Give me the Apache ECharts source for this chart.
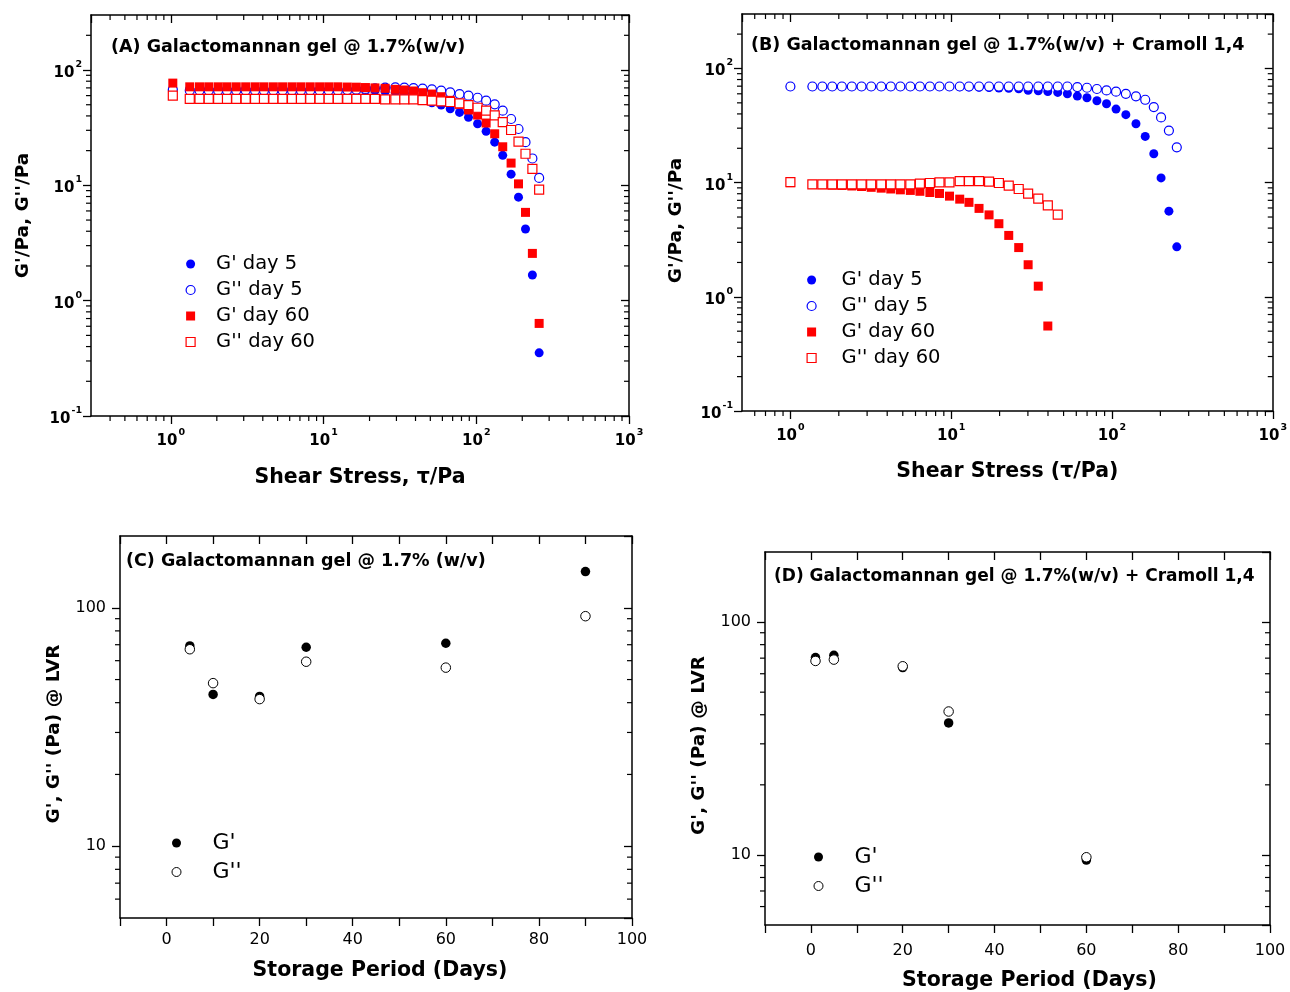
<!DOCTYPE html>
<html><head><meta charset="utf-8">
<script src="https://cdn.jsdelivr.net/npm/echarts@6/dist/echarts.min.js"></script>
<style>html,body{margin:0;padding:0;background:#fff}#c{width:1290px;height:992px}</style>
</head><body><div id="c"></div>
<script>
// ---------------- DATA ----------------
// Panel A: Galactomannan gel, shear stress sweep
const stressA = [1.03, 1.33, 1.54, 1.77, 2.04, 2.33, 2.68, 3.09, 3.56, 4.07, 4.69, 5.39, 6.21, 7.11, 8.18, 9.42, 10.8, 12.4, 14.3, 16.4, 18.8, 21.7, 25.3, 29.5, 33.8, 38.8, 44.5, 51.2, 58.9, 67.5, 77.7, 88.9, 102, 116, 132, 149, 169, 189, 210, 233, 258];
const gp5A   = [68.5, 69, 69, 69, 69, 69, 69, 69, 69, 69, 69, 69, 68.8, 68.6, 68.4, 68.2, 68, 67.6, 67.2, 66.8, 66.4, 66, 65.2, 64.3, 63, 60.5, 56.5, 52.0, 49.7, 46.1, 42.9, 38.9, 34.2, 29.4, 23.7, 18.2, 12.5, 7.9, 4.18, 1.67, 0.353];
const gpp5A  = [67.5, 66.5, 66.5, 66.5, 66.5, 66.5, 66.5, 66.5, 66.5, 66.5, 66.5, 66.5, 66.5, 66.5, 66.5, 66.5, 66.5, 66.5, 67, 67.5, 68.5, 69.5, 70.3, 70.6, 70.3, 69.8, 68.9, 68.0, 66.2, 64.0, 61.9, 59.9, 57.5, 54.2, 50.4, 44.4, 37.6, 30.8, 23.7, 17.1, 11.6];
const gp60A  = [77, 71.5, 71.5, 71.5, 71.5, 71.5, 71.5, 71.5, 71.5, 71.5, 71.5, 71.5, 71.5, 71.5, 71.5, 71.5, 71.5, 71.5, 71.2, 71, 70.5, 70, 69.4, 68.0, 67.1, 65.8, 63.6, 61.9, 58.7, 54.6, 50.4, 45.0, 40.7, 34.7, 28.0, 21.6, 15.6, 10.3, 5.83, 2.57, 0.635];
const gpp60A = [60, 56.3, 56.3, 56.3, 56.3, 56.3, 56.3, 56.3, 56.3, 56.3, 56.3, 56.3, 56.3, 56.3, 56.3, 56.3, 56.3, 56.3, 56.3, 56.3, 56.3, 56.3, 55.7, 55.7, 55.7, 55.7, 54.9, 54.2, 53.5, 52.8, 51.4, 49.7, 47.1, 44.4, 40.5, 35.4, 30.2, 23.9, 18.8, 13.9, 9.17];

// Panel B: Galactomannan gel + Cramoll 1,4
const stressB = [1.00, 1.37, 1.58, 1.82, 2.09, 2.41, 2.77, 3.18, 3.67, 4.21, 4.83, 5.57, 6.39, 7.37, 8.46, 9.76, 11.3, 12.9, 14.9, 17.2, 19.8, 22.8, 26.3, 30.1, 34.8, 39.9, 46.0, 52.8, 60.9, 69.9, 80.6, 92.5, 106, 122, 141, 161, 182, 202, 226, 253];
const gp5B   = [69.5, 69.5, 69.5, 69.5, 69.5, 69.5, 69.5, 69.5, 69.5, 69.5, 69.5, 69.5, 69.5, 69.5, 69.5, 69.5, 69, 68.8, 68.5, 68, 67.5, 67, 66.4, 64.5, 63.8, 62.9, 61.7, 60.0, 57.3, 55.4, 52.2, 49.1, 44.1, 39.4, 32.8, 25.4, 17.9, 11.0, 5.63, 2.74];
const gpp5B  = [69.5, 69.5, 69.5, 69.5, 69.5, 69.5, 69.5, 69.5, 69.5, 69.5, 69.5, 69.5, 69.5, 69.5, 69.5, 69.5, 69.5, 69.5, 69.5, 69.5, 69.5, 69.5, 69.5, 69.5, 69.5, 69.5, 69.5, 69.5, 68.7, 67.8, 66.1, 64.2, 62.6, 60.0, 57.0, 53.2, 45.9, 37.3, 28.6, 20.4];
const gp60B  = [10.0, 9.65, 9.6, 9.5, 9.45, 9.35, 9.25, 9.1, 8.95, 8.8, 8.65, 8.55, 8.4, 8.2, 8.04, 7.62, 7.17, 6.72, 5.95, 5.22, 4.37, 3.45, 2.70, 1.91, 1.24, 0.555];
const gpp60B = [10.1, 9.67, 9.67, 9.67, 9.67, 9.67, 9.67, 9.67, 9.67, 9.67, 9.67, 9.67, 9.80, 9.93, 10.06, 10.06, 10.3, 10.3, 10.3, 10.2, 9.93, 9.42, 8.8, 8.03, 7.25, 6.33, 5.25];

// Panel C: storage, gel
const daysC = [5, 10, 20, 30, 60, 90];
const gpC   = [69.2, 43.3, 42.5, 68.3, 71.0, 141.8];
const gppC  = [67.0, 48.3, 41.4, 59.4, 56.1, 92.2];

// Panel D: storage, gel + Cramoll 1,4
const daysD = [1, 5, 20, 30, 60];
const gpD   = [70.4, 72.0, 63.8, 36.9, 9.5];
const gppD  = [68.1, 69.0, 64.6, 41.3, 9.77];

const namesAB = ["G' day 5", "G'' day 5", "G' day 60", "G'' day 60"];
const namesCD = ["G'", "G''"];
const panelTitles = [
  "(A) Galactomannan gel @ 1.7%(w/v)",
  "(B) Galactomannan gel @ 1.7%(w/v) + Cramoll 1,4",
  "(C) Galactomannan gel @ 1.7% (w/v)",
  "(D) Galactomannan gel @ 1.7%(w/v) + Cramoll 1,4"
];
const xTitles = ["Shear Stress, \u03c4/Pa", "Shear Stress (\u03c4/Pa)", "Storage Period (Days)", "Storage Period (Days)"];
const yTitles = ["G'/Pa, G''/Pa", "G'/Pa, G''/Pa", "G', G'' (Pa) @ LVR", "G', G'' (Pa) @ LVR"];

// ---------------- STYLE / LAYOUT ----------------
const FONT = '"DejaVu Sans", Verdana, sans-serif';
const BLUE = '#0000ff', RED = '#ff0000', BLACK = '#000';
const SQUARE = 'path://M0,0H10V10H0Z';
const grids = [
  {left: 91, top: 15, width: 538, height: 401},
  {left: 742, top: 14, width: 533, height: 397},
  {left: 120, top: 536, width: 512, height: 382},
  {left: 765, top: 552, width: 505, height: 374}
];
const ranges = [
  {x: [0.3, 1000], y: [0.1, 300]},
  {x: [0.5, 1000], y: [0.1, 300]},
  {x: [-10, 100], y: [5, 200]},
  {x: [-10, 100], y: [5, 200]}
];

function pairs(xs, ys) { return xs.map((x, i) => [x, ys[i]]).filter(p => p[1] != null); }

function powLabel(v) {
  const e = Math.log10(v), r = Math.round(e);
  if (Math.abs(e - r) > 1e-6) return '';
  return '{b|10}{s|' + r + '}';
}
const powRich = {
  b: {fontSize: 15, fontWeight: 'bold', fontFamily: FONT, color: BLACK, lineHeight: 21, verticalAlign: 'bottom'},
  s: {fontSize: 9.5, fontWeight: 'bold', fontFamily: FONT, color: BLACK, lineHeight: 21, verticalAlign: 'top', padding: [0, 0, 0, 1]}
};

const axisLine = {show: true, onZero: false, lineStyle: {color: BLACK, width: 1.5}};
const xAxes = [], yAxes = [];
for (let p = 0; p < 4; p++) {
  const isLog = p < 2;
  const r = ranges[p];
  const nameGapX = [51, 50, 42, 45][p];
  const nameGapY = [58, 56, 56, 56][p];
  const xNamePad = [[0, 0, 0, 0], [0, 0, 0, 0], [0, 0, 0, 8], [0, 0, 0, 24]][p];
  const yNamePad = [[0, 0, 0, 0], [0, 16, 0, 0], [0, 14, 0, 0], [0, 14, 0, 0]][p];
  const labelMarginX = [12, 12, 14, 18][p];
  const baseX = isLog
    ? {type: 'log', logBase: 10, min: r.x[0], max: r.x[1]}
    : {type: 'value', min: r.x[0], max: r.x[1], interval: 10};
  const baseY = {type: 'log', logBase: 10, min: r.y[0], max: r.y[1]};
  xAxes.push(Object.assign({}, baseX, {
    gridIndex: p, position: 'bottom', axisLine,
    axisTick: {show: true, length: 8, lineStyle: {color: BLACK, width: 1.3}},
    splitLine: {show: false},
    axisLabel: isLog
      ? {margin: labelMarginX, formatter: powLabel, rich: powRich, showMinLabel: false}
      : {margin: labelMarginX, fontSize: 16, fontFamily: FONT, color: BLACK, formatter: v => (v % 20 === 0 ? String(v) : '')},
    name: xTitles[p], nameLocation: 'middle', nameGap: nameGapX,
    nameTextStyle: {fontSize: 20.5, fontWeight: 'bold', fontFamily: FONT, color: BLACK, padding: xNamePad}
  }));
  xAxes.push(Object.assign({}, baseX, {
    gridIndex: p, position: 'top', axisLine,
    axisTick: {show: true, inside: true, length: 8, lineStyle: {color: BLACK, width: 1.3}},
    splitLine: {show: false}, axisLabel: {show: false}
  }));
  yAxes.push(Object.assign({}, baseY, {
    gridIndex: p, position: 'left', axisLine,
    axisTick: {show: true, length: 8, lineStyle: {color: BLACK, width: 1.3}},
    splitLine: {show: false},
    axisLabel: isLog
      ? {margin: 9, formatter: powLabel, rich: powRich, showMaxLabel: false, showMinLabel: true}
      : {margin: 14, fontSize: 16, fontFamily: FONT, color: BLACK, showMinLabel: false, showMaxLabel: false,
         formatter: v => { const e = Math.log10(v); return Math.abs(e - Math.round(e)) < 1e-6 ? String(Math.round(v)) : ''; }},
    name: yTitles[p], nameLocation: 'middle', nameGap: nameGapY, nameRotate: 90,
    nameTextStyle: {fontSize: 18.5, fontWeight: 'bold', fontFamily: FONT, color: BLACK, padding: yNamePad}
  }));
  yAxes.push(Object.assign({}, baseY, {
    gridIndex: p, position: 'right', axisLine,
    axisTick: {show: true, inside: true, length: 8, lineStyle: {color: BLACK, width: 1.3}},
    splitLine: {show: false}, axisLabel: {show: false}
  }));
}

// minor ticks for log axes drawn through the axis scales
function decadeMinors(lo, hi) {
  const out = [];
  for (let e = -2; e <= 3; e++) for (let m = 2; m <= 9; m++) {
    const v = m * Math.pow(10, e);
    if (v > lo * 1.0001 && v < hi * 0.9999) out.push(v);
  }
  return out;
}
function minorTickSeries(p, xMinor, yMinor) {
  const r = ranges[p];
  return {
    type: 'custom', xAxisIndex: 2 * p, yAxisIndex: 2 * p, silent: true, z: 1, clip: false,
    data: [[r.x[0], r.y[0]]],
    renderItem: function (params, api) {
      const lo = api.coord([r.x[0], r.y[0]]), hi = api.coord([r.x[1], r.y[1]]);
      const L = 5, kids = [];
      const st = {stroke: BLACK, lineWidth: 1.2};
      xMinor.forEach(v => {
        const x = api.coord([v, r.y[0]])[0];
        kids.push({type: 'line', shape: {x1: x, y1: lo[1], x2: x, y2: lo[1] + L}, style: st});
        kids.push({type: 'line', shape: {x1: x, y1: hi[1], x2: x, y2: hi[1] + L}, style: st});
      });
      yMinor.forEach(v => {
        const y = api.coord([r.x[0], v])[1];
        kids.push({type: 'line', shape: {x1: lo[0], y1: y, x2: lo[0] - L, y2: y}, style: st});
        kids.push({type: 'line', shape: {x1: hi[0], y1: y, x2: hi[0] - L, y2: y}, style: st});
      });
      return {type: 'group', children: kids};
    }
  };
}

const symAB = [
  {symbol: 'circle', itemStyle: {color: BLUE, opacity: 1}},
  {symbol: 'circle', itemStyle: {color: '#fff', borderColor: BLUE, borderWidth: 1.2, opacity: 1}},
  {symbol: SQUARE, itemStyle: {color: RED, opacity: 1}},
  {symbol: SQUARE, itemStyle: {color: '#fff', borderColor: RED, borderWidth: 1.2, opacity: 1}}
];
const symCD = [
  {symbol: 'circle', itemStyle: {color: BLACK, opacity: 1}},
  {symbol: 'circle', itemStyle: {color: '#fff', borderColor: BLACK, borderWidth: 1, opacity: 1}}
];

const series = [];
const dataA = [pairs(stressA, gp5A), pairs(stressA, gpp5A), pairs(stressA, gp60A), pairs(stressA, gpp60A)];
const dataB = [pairs(stressB, gp5B), pairs(stressB, gpp5B), pairs(stressB, gp60B), pairs(stressB, gpp60B)];
[dataA, dataB].forEach((ds, p) => {
  ds.forEach((d, k) => series.push(Object.assign({
    type: 'scatter', name: namesAB[k], xAxisIndex: 2 * p, yAxisIndex: 2 * p,
    symbolSize: 9, symbolKeepAspect: true, data: d, z: 3 + k, animation: false
  }, JSON.parse(JSON.stringify(symAB[k])))));
});
const dataC = [pairs(daysC, gpC), pairs(daysC, gppC)];
const dataD = [pairs(daysD, gpD), pairs(daysD, gppD)];
[dataC, dataD].forEach((ds, q) => {
  const p = q + 2;
  ds.forEach((d, k) => series.push(Object.assign({
    type: 'scatter', name: namesCD[k], xAxisIndex: 2 * p, yAxisIndex: 2 * p,
    symbolSize: 9.5, data: d, z: 3 + k, animation: false
  }, JSON.parse(JSON.stringify(symCD[k])))));
});
series.push(minorTickSeries(0, decadeMinors(0.3, 1000), decadeMinors(0.1, 300)));
series.push(minorTickSeries(1, decadeMinors(0.5, 1000), decadeMinors(0.1, 300)));
series.push(minorTickSeries(2, [], decadeMinors(5, 200)));
series.push(minorTickSeries(3, [], decadeMinors(5, 200)));

const legendText = (fs) => ({fontSize: fs, fontFamily: FONT, color: BLACK});
function legendData(names, syms) {
  return names.map((n, i) => ({name: n, icon: syms[i].symbol,
    itemStyle: syms[i].itemStyle.borderWidth ? {borderWidth: syms[i].itemStyle.borderWidth} : {}}));
}
// legend "left" is the left edge of the icons (content box), icon centre = left + 4.5
const legends = [
  {data: legendData(namesAB, symAB), left: 185.5, top: 254, itemGap: 6, itemWidth: 41, itemHeight: 9, textStyle: legendText(19.5)},
  {data: legendData(namesAB, symAB), left: 806.5, top: 270, itemGap: 6, itemWidth: 50, itemHeight: 9, textStyle: legendText(19.5)},
  {data: legendData(namesCD, symCD), left: 171.5, top: 832, itemGap: 7, itemWidth: 62, itemHeight: 9, textStyle: legendText(22)},
  {data: legendData(namesCD, symCD), left: 813.5, top: 846, itemGap: 7, itemWidth: 62, itemHeight: 9, textStyle: legendText(22)}
].map(l => Object.assign({orient: 'vertical', selectedMode: false, padding: 0, symbolKeepAspect: true}, l));

const titlePos = [[111, 38], [751, 36], [126, 552], [774, 568]];
const titleSize = [17.5, 17.5, 17.5, 17];
const titles = panelTitles.map((t, i) => ({
  text: t, left: titlePos[i][0], top: titlePos[i][1], padding: 0,
  textStyle: {fontSize: titleSize[i], fontWeight: 'bold', fontFamily: FONT, color: BLACK}
}));

const chart = echarts.init(document.getElementById('c'), null, {renderer: 'canvas'});
chart.setOption({
  backgroundColor: '#fff',
  animation: false,
  title: titles,
  legend: legends,
  grid: grids,
  xAxis: xAxes,
  yAxis: yAxes,
  series: series
});
</script></body></html>
